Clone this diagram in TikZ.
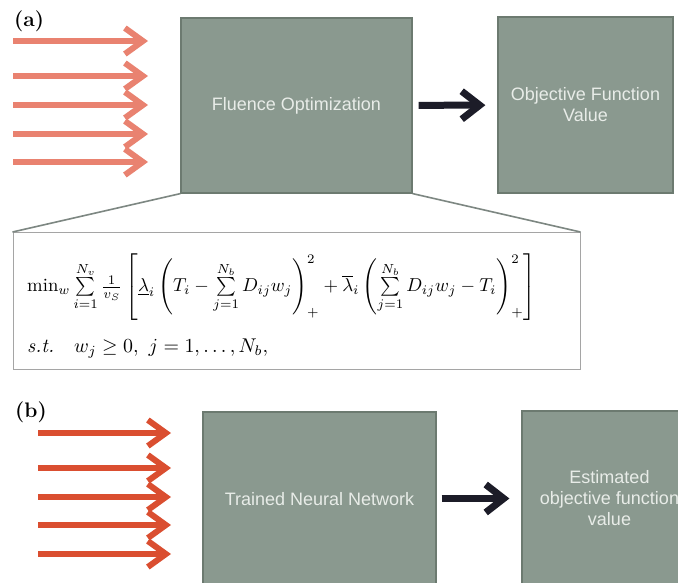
\documentclass[tikz,border=0pt]{standalone}
\usepackage{amsmath}
\usepackage{fontspec}
\setsansfont{Liberation Sans}
\usetikzlibrary{arrows.meta}
\definecolor{boxfill}{RGB}{138,153,143}
\definecolor{boxedge}{RGB}{108,122,112}
\definecolor{boxtext}{RGB}{232,236,232}
\definecolor{salmon}{RGB}{233,130,112}
\definecolor{redbeam}{RGB}{218,78,48}
\definecolor{darkarrow}{RGB}{28,28,40}
\definecolor{zoomline}{RGB}{125,135,130}
\definecolor{frameline}{RGB}{165,165,165}
\tikzset{
  procbox/.style={draw=boxedge, line width=1.2pt, fill=boxfill, text=boxtext,
    font=\sffamily\fontsize{18}{21}\selectfont, align=center, inner sep=0pt},
  beamA/.style={salmon, line width=6pt, -{Straight Barb[length=18pt,width=26pt]}},
  beamB/.style={redbeam, line width=6pt, -{Straight Barb[length=18pt,width=26pt]}},
  flowarrow/.style={darkarrow, line width=7pt, -{Straight Barb[length=18pt,width=28pt]}},
  zoomedge/.style={zoomline, line width=1.6pt},
  panellabel/.style={font=\bfseries\fontsize{21}{24}\selectfont, anchor=north west, inner sep=0pt},
  formulabox/.style={draw=frameline, line width=1pt, fill=white, inner sep=0pt},
  formtext/.style={anchor=west, inner sep=0pt}
}
\begin{document}
\begin{tikzpicture}[x=1pt,y=-1pt]
\useasboundingbox (0,0) rectangle (678,582);
\clip (0,0) rectangle (678,582);
\fill[white] (0,0) rectangle (678,582);

% ---------- panel (a) ----------
\node[panellabel] (la) at (14,11) {(a)};
\node[procbox, minimum width=231pt, minimum height=175pt] (fluence) at (296.5,105.5) {Fluence Optimization};
\node[procbox, minimum width=175pt, minimum height=176pt] (objval) at (585.5,105) {Objective Function\\Value};

\foreach \y [count=\k] in {41,76,105,134,162}{
  \coordinate (as\k) at (13,\y);
  \coordinate (ae\k) at (148,\y);
  \draw[beamA] (as\k) -- (ae\k);
}
\draw[flowarrow, shorten <=6pt, shorten >=12pt] (fluence) -- (objval);

\node[formulabox, minimum width=567pt, minimum height=137pt] (formula) at (296.5,301) {};
\draw[zoomedge] (fluence.south west) -- (formula.north west);
\draw[zoomedge] (fluence.south east) -- (formula.north east);

\node[formtext] (objfun) at (27,287) {\resizebox{509pt}{!}{$\textstyle
  \min_w \sum\limits_{i=1}^{N_v} \frac{1}{v_S}
  \left[ \underline{\lambda}_i \left( T_i - \sum\limits_{j=1}^{N_b} D_{ij} w_j \right)_{+}^{2}
  + \overline{\lambda}_i \left( \sum\limits_{j=1}^{N_b} D_{ij} w_j - T_i \right)_{+}^{2} \right]$}};
\node[formtext] (constr) at (27,349) {\resizebox{241pt}{!}{$\textit{s.t.}\quad w_j \geq 0,\ j=1,\ldots,N_b,$}};

% ---------- panel (b) ----------
\node[panellabel] (lb) at (15,402) {(b)};
\node[procbox, minimum width=233pt, minimum height=175pt] (tnn) at (319.5,499.5) {Trained Neural Network};
\node[procbox, minimum width=175pt, minimum height=175pt] (estval) at (609.5,498.5) {Estimated\\objective function\\value};

\foreach \y [count=\k] in {433,468,497,525,554}{
  \coordinate (bs\k) at (38,\y);
  \coordinate (be\k) at (171,\y);
  \draw[beamB] (bs\k) -- (be\k);
}
\draw[flowarrow, shorten <=5pt, shorten >=12pt] (tnn.east |- estval.west) -- (estval.west);
\end{tikzpicture}
\end{document}
